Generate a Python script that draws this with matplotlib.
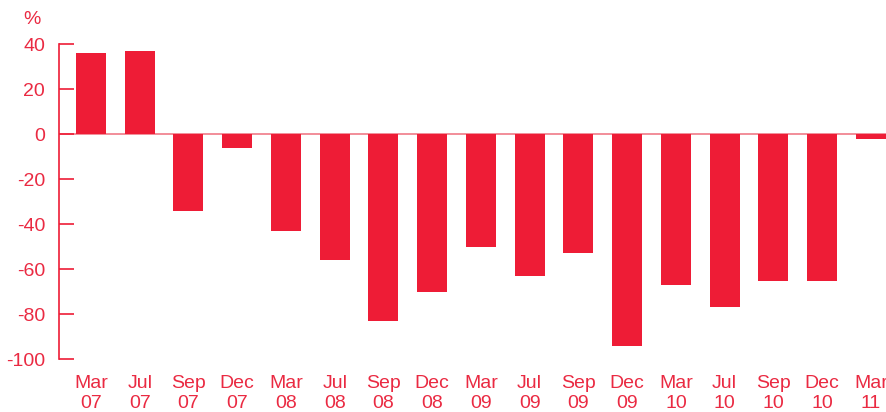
import matplotlib
matplotlib.use('Agg')
import matplotlib.pyplot as plt
import numpy as np

# периоды и значения (%)
months = ['Mar', 'Jul', 'Sep', 'Dec', 'Mar', 'Jul', 'Sep', 'Dec', 'Mar',
          'Jul', 'Sep', 'Dec', 'Mar', 'Jul', 'Sep', 'Dec', 'Mar']
years = ['07', '07', '07', '07', '08', '08', '08', '08', '09',
         '09', '09', '09', '10', '10', '10', '10', '11']
values = [36, 37, -34, -6, -43, -56, -83, -70, -50,
          -63, -53, -94, -67, -77, -65.5, -65.5, -2]
yticks = [40, 20, 0, -20, -40, -60, -80, -100]

red = '#ee1c36'
txt = '#ea2a42'

plt.rcParams['font.family'] = ['Liberation Sans', 'DejaVu Sans']

fig = plt.figure(figsize=(8.87, 4.12), dpi=100)
ax = fig.add_axes([0.0665, 0.1286, 0.9335, 0.7645])

x = np.arange(len(values))
ax.bar(x, values, width=0.615, color=red, zorder=2)
ax.axhline(0, color='#f07a88', lw=1.2, zorder=1)

ax.set_xlim(-0.656, len(values) - 1 + 0.33)
ax.set_ylim(-100, 40)

for s in ['top', 'right', 'bottom']:
    ax.spines[s].set_visible(False)
ax.spines['left'].set_color(red)
ax.spines['left'].set_linewidth(1.2)

ax.set_yticks(yticks)
ax.set_yticklabels([str(v) for v in yticks])
ax.tick_params(axis='y', direction='in', length=11, width=1.2, color=red,
               labelcolor=txt, labelsize=14, pad=10)
ax.set_xticks([])

for i in x:
    ax.text(i, -107, months[i] + '\n' + years[i], ha='center', va='top',
            color=txt, fontsize=14, linespacing=1.22)

fig.text(32 / 887, 1 - 20 / 412, '%', ha='center', va='center', color=txt, fontsize=14)

fig.savefig('out.png', dpi=100)
